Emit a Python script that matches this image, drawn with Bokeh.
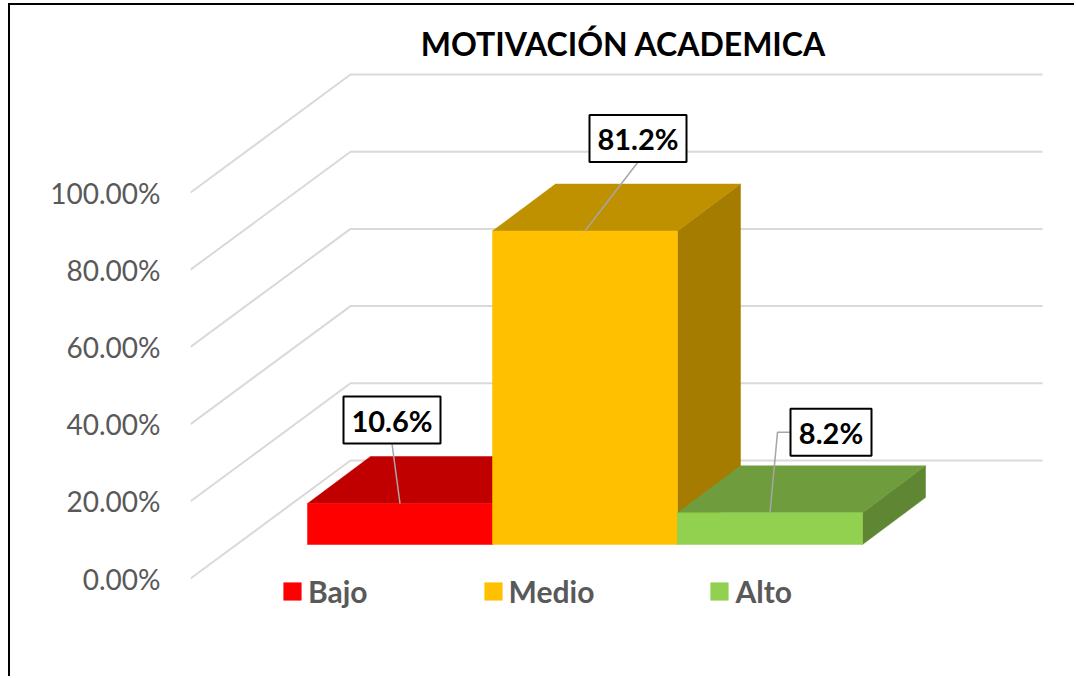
from bokeh.plotting import figure
from bokeh.models import Range1d, LinearAxis, FixedTicker, Legend, LegendItem
from bokeh.core.properties import value
from bokeh.embed import file_html
from bokeh.resources import INLINE

# --- data ---
categories = ["Bajo", "Medio", "Alto"]
values = [10.6, 81.2, 8.2]
labels = ["10.6%", "81.2%", "8.2%"]
ticks = [0, 20, 40, 60, 80, 100]
tick_labels = ["0.00%", "20.00%", "40.00%", "60.00%", "80.00%", "100.00%"]
front_colors = ["#FF0000", "#FFC000", "#92D050"]
top_colors = ["#C00000", "#BF9000", "#6F9D3D"]
side_colors = ["#A60000", "#A67C00", "#5F8632"]

# --- layout ---
PX_X, PX_Y = 185.0, 3.86          # pixels per category / per percent
FLOOR = 34 / PX_Y                 # front floor height of bars
BAR_DX, BAR_DY = 63 / PX_X, 47 / PX_Y
WALL_DX, WALL_DY = 160 / PX_X, 118 / PX_Y
X0, X1 = (190 - 307) / PX_X, (1056 - 307) / PX_X
Y0, Y1 = (578 - 650) / PX_Y, (578 - 68) / PX_Y
WALL_RIGHT = (1042 - 307) / PX_X
label_offsets = [(-8, 83.5), (53, 92.5), (61, 80.5)]
label_widths = [97, 97, 81]
LABEL_H = 47
FONT = value("Lato")

p = figure(width=1066, height=673, x_range=Range1d(X0, X1), y_range=Range1d(Y0, Y1),
           output_backend="svg", toolbar_location=None, x_axis_location=None, y_axis_location=None,
           min_border_left=180, min_border_right=20, min_border_top=63, min_border_bottom=28,
           margin=(5, 0, 0, 10), title="MOTIVACIÓN ACADEMICA",
           styles={"box-shadow": "-2px -2px 0 0 #000000"})
p.title.align = "center"
p.title.text_font = "Lato"
p.title.text_font_style = "bold"
p.title.text_font_size = "32px"
p.title.text_color = "#000000"
p.title.standoff = 12
p.outline_line_color = None
p.grid.visible = False
p.background_fill_color = "#FFFFFF"
p.border_fill_color = "#FFFFFF"

axis = LinearAxis(ticker=FixedTicker(ticks=ticks),
                  major_label_overrides=dict(zip(ticks, tick_labels)))
axis.axis_line_color = None
axis.major_tick_line_color = None
axis.minor_tick_line_color = None
axis.major_label_standoff = 24
axis.major_label_text_font = "Lato"
axis.major_label_text_font_size = "28px"
axis.major_label_text_color = "#595959"
p.add_layout(axis, "left")

# back wall gridlines
p.multi_line([[X0, X0 + WALL_DX, WALL_RIGHT] for t in ticks],
             [[t, t + WALL_DY, t + WALL_DY] for t in ticks],
             line_color="#D9D9D9", line_width=2)

# 3D bars
items = []
for i, (cat, v) in enumerate(zip(categories, values)):
    b, t = FLOOR, FLOOR + v
    l, r = float(i), float(i + 1)
    p.patch([r, r + BAR_DX, r + BAR_DX, r], [b, b + BAR_DY, t + BAR_DY, t], color=side_colors[i], line_width=0.5)
    p.patch([l, r, r + BAR_DX, l + BAR_DX], [t, t, t + BAR_DY, t + BAR_DY], color=top_colors[i], line_width=0.5)
    front = p.patch([l, r, r, l], [b, b, t, t], color=front_colors[i], line_width=0.5)
    items.append(LegendItem(label=value(cat), renderers=[front]))

# data labels with leaders
for i, (lab, v) in enumerate(zip(labels, values)):
    cx, top = i + 0.5, FLOOR + v
    ox, oy = label_offsets[i]
    lx, ly = cx + ox / PX_X, top + oy / PX_Y
    w, h = label_widths[i] / PX_X / 2, LABEL_H / PX_Y / 2
    if i == 2:
        p.line([cx, lx - w - 13 / PX_X, lx - w], [top, ly, ly], line_color="#A6A6A6", line_width=1.5)
    else:
        p.line([cx, lx], [top, ly - h], line_color="#A6A6A6", line_width=1.5)
    p.quad(left=[lx - w], right=[lx + w], bottom=[ly - h], top=[ly + h],
           fill_color="#FFFFFF", line_color="#000000", line_width=2)
    p.text([lx], [ly], text=[lab], text_align="center", text_baseline="middle",
           text_font=FONT, text_font_style="bold", text_font_size="29px", text_color="#000000")

legend = Legend(items=items, orientation="horizontal", location=(91, 41), padding=0, margin=0,
                spacing=114, glyph_width=22, glyph_height=22, label_standoff=5,
                label_text_font="Lato", label_text_font_style="bold", label_text_font_size="30px",
                label_text_color="#595959", background_fill_alpha=0, border_line_color=None)
p.add_layout(legend, "center")

open("out.html", "w").write(file_html(p, INLINE))
